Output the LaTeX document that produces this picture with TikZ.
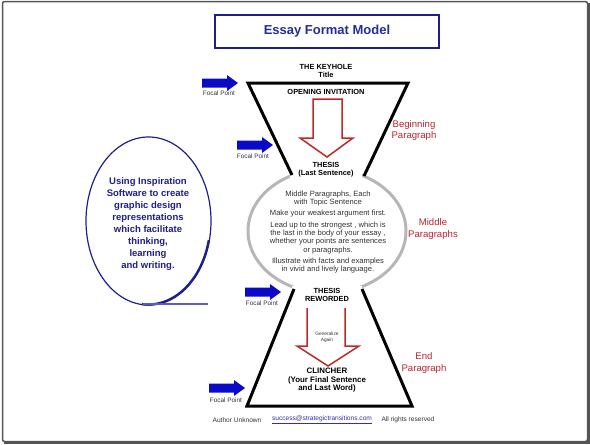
\documentclass[tikz,border=0pt]{standalone}
\usepackage{fontspec}
\setmainfont{Liberation Sans}
\usetikzlibrary{shapes.geometric}
\definecolor{navy}{RGB}{30,30,140}
\definecolor{titleblue}{RGB}{35,45,150}
\definecolor{focalblue}{RGB}{10,10,200}
\definecolor{redlab}{RGB}{185,35,45}
\definecolor{redarrow}{RGB}{190,40,40}
\definecolor{ringgray}{RGB}{182,182,182}
\definecolor{framegray}{RGB}{85,85,85}
\definecolor{bodytext}{RGB}{50,50,50}
\definecolor{linkblue}{RGB}{50,50,170}
\tikzset{
  focalarrow/.pic={\fill[focalblue] (0,-4.5) -- (25,-4.5) -- (25,-8) -- (36,0) -- (25,8) -- (25,4.5) -- (0,4.5) -- cycle;},
  keytext/.style={font=\fontsize{7.4}{8}\selectfont\bfseries, text=black},
  bigkey/.style={font=\fontsize{7.9}{8.5}\selectfont\bfseries, text=black},
  focallabel/.style={font=\fontsize{6.4}{7}\selectfont, text=bodytext},
  sidelabel/.style={font=\fontsize{9.6}{11.2}\selectfont, text=redlab},
  ringtext/.style={font=\fontsize{7.6}{8.3}\selectfont, text=bodytext},
  footer/.style={font=\fontsize{6.6}{7}\selectfont, text=bodytext},
  blackline/.style={draw=black, line width=3pt, line join=miter},
  redblock/.style={draw=redarrow, line width=1.5pt, fill=white, line join=miter},
}
\begin{document}
\begin{tikzpicture}[x=1pt,y=-1pt, every node/.style={inner sep=0pt, align=center}]
\useasboundingbox (0,0) rectangle (590,445);
% outer frame
\draw[framegray, line width=1.5pt, rounded corners=2pt] (2.5,1.5) rectangle (587.5,441.5);
\draw[framegray, line width=2.5pt] (4,442.5) -- (588.5,442.5) -- (588.5,3);
% title
\node[draw=navy, line width=1.8pt, minimum width=224, minimum height=33, text=titleblue,
      font=\fontsize{13}{14}\selectfont\bfseries] (title) at (327,31.5) {Essay Format Model};
% big grey ring
\draw[ringgray, line width=3pt] (327,231) ellipse [x radius=79, y radius=62];
% top part
\node[keytext] (keyhole) at (326,71) {THE KEYHOLE\\Title};
\node[keytext] (opening) at (326,92) {OPENING INVITATION};
\draw[redblock] (313,99) -- (342,99) -- (342,138) -- (353,138) -- (327,157) -- (300,138) -- (313,138) -- cycle;
\node[keytext, fill=white, minimum width=72, inner ysep=2.5pt] (thesis) at (326,170) {THESIS\\(Last Sentence)};
\draw[blackline] (292,175) -- (248,83) -- (408,83) -- (364,176);
% middle text
\node[ringtext] (middle) at (328,232) {Middle Paragraphs, Each\\with Topic Sentence\\[3pt]
Make your weakest argument first.\\[3pt]
Lead up to the strongest , which is\\the last in the body of your essay ,\\whether your points are sentences\\or paragraphs.\\[3pt]
Illustrate with facts and examples\\in vivid and lively language.};
% bottom part
\node[keytext, fill=white, minimum width=70, inner ysep=2.5pt] (reworded) at (327,295) {THESIS\\REWORDED};
\draw[blackline] (294,289) -- (247,406) -- (412,406) -- (362,289);
\draw[draw=redarrow, line width=1.5pt, line join=miter] (307,308) -- (307,346) -- (297,346) -- (328,366) -- (359,346) -- (345,346) -- (345,308);
\node[font=\fontsize{4.8}{6.5}\selectfont, text=bodytext] (generalize) at (327,337.5) {Generalize\\Again};
\node[bigkey] (clincher) at (327,380.5) {CLINCHER\\(Your Final Sentence\\and Last Word)};
% focal points
\pic (fa1) at (202,83) {focalarrow};
\node[focallabel] (fp1) at (219,93.5) {Focal Point};
\pic (fa2) at (237,145) {focalarrow};
\node[focallabel] (fp2) at (253,156) {Focal Point};
\pic (fa3) at (245,292) {focalarrow};
\node[focallabel] (fp3) at (262,303) {Focal Point};
\pic (fa4) at (209,388) {focalarrow};
\node[focallabel] (fp4) at (226,400) {Focal Point};
% side labels
\node[sidelabel] (beg) at (414,130.5) {Beginning\\Paragraph};
\node[sidelabel] (mid) at (433,229) {Middle\\Paragraphs};
\node[sidelabel] (endp) at (424,363) {End\\Paragraph};
% left ellipse
\node[draw=navy, line width=1.2pt, ellipse, minimum width=125, minimum height=168] (inspire) at (148.5,221) {};
\begin{scope}
  \clip (148.5,221) -- (140,330) -- (240,330) -- (240,250) -- cycle;
  \draw[navy, line width=2.4pt] (inspire.center) ellipse [x radius=62, y radius=83.5];
\end{scope}
\draw[linkblue!80, line width=2pt] (143,304) -- (208,304);
\node[font=\fontsize{9.5}{12}\selectfont\bfseries, text=navy] (inspiretext) at (148,224)
  {Using Inspiration\\Software to create\\graphic design\\representations\\which facilitate\\thinking,\\learning\\and writing.};
% footer
\node[footer] (author) at (237,420) {Author Unknown};
\node[footer, text=linkblue] (mail) at (322,420) {\underline{success@strategictransitions.com}};
\node[footer] (rights) at (408,420) {All rights reserved};
\end{tikzpicture}
\end{document}
